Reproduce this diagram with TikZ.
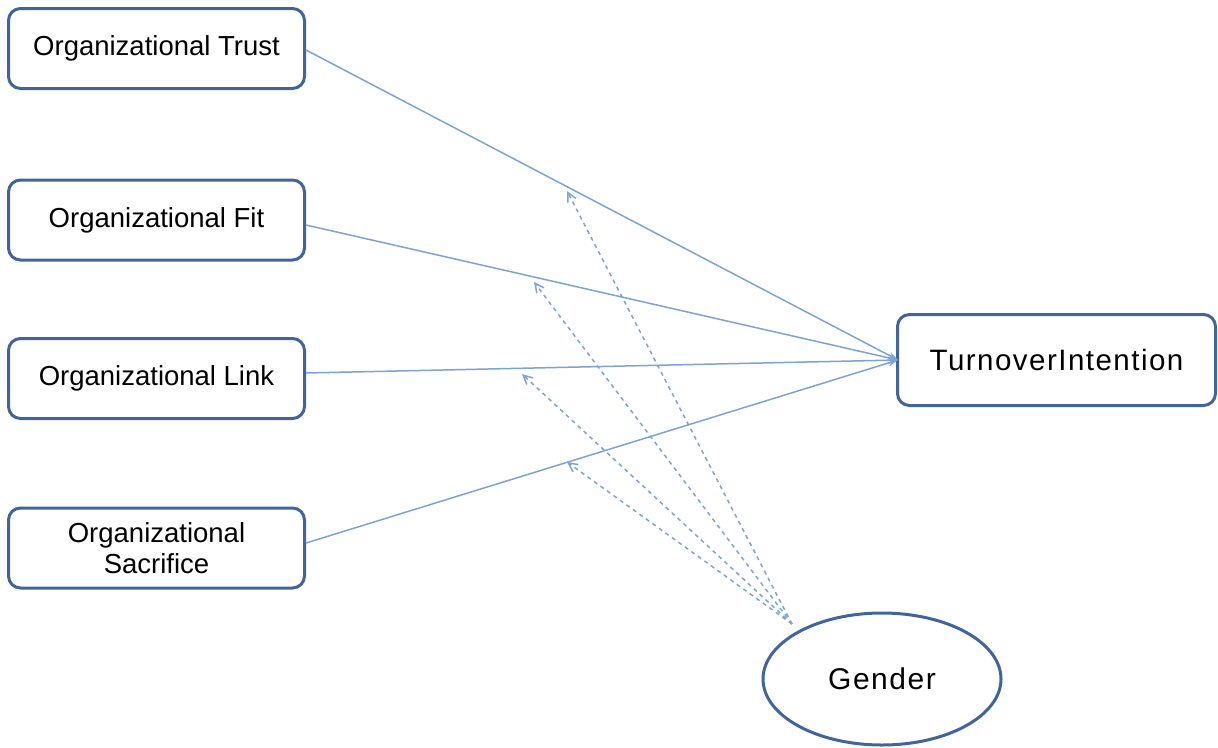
\documentclass[tikz,border=0pt]{standalone}
\usepackage{fontspec}
\setmainfont{Liberation Sans}
\newfontfamily\widefont[LetterSpace=5]{Liberation Sans}
\usetikzlibrary{arrows.meta,shapes.geometric}
\definecolor{boxblue}{HTML}{41659A}
\definecolor{linkblue}{HTML}{7DA2D6}
\begin{document}
\begin{tikzpicture}[x=1pt,y=-1pt,
  factor/.style={draw=boxblue,line width=3pt,rounded corners=12pt,fill=white,
    minimum width=296pt,minimum height=80pt,align=center,
    font=\fontsize{27.5}{31}\selectfont,inner sep=0pt},
  outcome/.style={factor,minimum width=318pt,minimum height=91pt,
    font=\widefont\fontsize{29.5}{33}\selectfont},
  moderator/.style={draw=boxblue,line width=3pt,ellipse,fill=white,
    minimum width=238pt,minimum height=132pt,inner sep=0pt,
    font=\widefont\fontsize{30}{33}\selectfont},
  path/.style={draw=linkblue,line width=1.5pt,-{Stealth[length=10pt,width=7pt]}},
  modpath/.style={draw=linkblue,line width=1.5pt,dash pattern=on 4pt off 4pt,
    -{Straight Barb[length=9pt,width=9pt]}}]
\useasboundingbox (0,0) rectangle (1218,747);

% predictors
\node[factor] (trust) at (156.5,48.5) {Organizational Trust};
\node[factor] (fit) at (156.5,220) {Organizational Fit};
\node[factor] (link) at (156.5,378.5) {Organizational Link};
\node[factor] (sacr) at (156.5,548) {Organizational\\Sacrifice};

% outcome and moderator
\node[outcome] (turn) at (1056.5,360) {TurnoverIntention};
\node[moderator] (gender) at (882,679) {Gender};

% direct effects
\coordinate (in) at (898,360);
\draw[path] (trust.east |- 0,50) -- (in);
\draw[path] (fit.east |- 0,225) -- (in);
\draw[path] (link.east |- 0,373) -- (in);
\draw[path] (sacr.east |- 0,543) -- (in);

% moderating effects of gender
\coordinate (g) at (792,624);
\coordinate (m1) at (567,191);
\coordinate (m2) at (534,282);
\coordinate (m3) at (522,374);
\coordinate (m4) at (567,462);
\draw[modpath] (g) -- (m1);
\draw[modpath] (g) -- (m2);
\draw[modpath] (g) -- (m3);
\draw[modpath] (g) -- (m4);
\end{tikzpicture}
\end{document}
